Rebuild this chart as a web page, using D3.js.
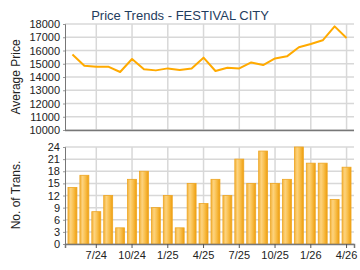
<!DOCTYPE html>
<html>
<head>
<meta charset="utf-8">
<script src="https://cdn.jsdelivr.net/npm/d3@7"></script>
<style>
  body { margin: 0; background: #fff; }
  svg text { font-family: Arial, "Liberation Sans", sans-serif; }
</style>
</head>
<body>
<div id="app"></div>
<script>
// months May 2024 .. Apr 2026
const months = ["5/24","6/24","7/24","8/24","9/24","10/24","11/24","12/24","1/25","2/25","3/25","4/25",
  "5/25","6/25","7/25","8/25","9/25","10/25","11/25","12/25","1/26","2/26","3/26","4/26"]
const tickLabels = ["7/24","10/24","1/25","4/25","7/25","10/25","1/26","4/26"]
const avgPrice = [15700,14850,14780,14780,14380,15360,14580,14500,14650,14530,14650,15460,
  14450,14700,14650,15100,14900,15400,15560,16240,16490,16770,17820,16940]
const transactions = [14,17,8,12,4,16,18,9,12,4,15,10,16,12,21,15,23,15,16,24,20,20,11,19]
const priceTicks = [10000,11000,12000,13000,14000,15000,16000,17000,18000]
const transTicks = [0,3,6,9,12,15,18,21,24]

const W = 360, H = 270
const left = 65, right = 354

const svg = d3.select("#app").append("svg")
  .attr("width", W).attr("height", H)

const defs = svg.append("defs")
const grad = defs.append("linearGradient").attr("id", "barGrad")
  .attr("x1", 0).attr("x2", 1).attr("y1", 0).attr("y2", 0)
grad.append("stop").attr("offset", "0%").attr("stop-color", "#f3b23a")
grad.append("stop").attr("offset", "30%").attr("stop-color", "#fdd37e")
grad.append("stop").attr("offset", "60%").attr("stop-color", "#f9c04f")
grad.append("stop").attr("offset", "100%").attr("stop-color", "#ee9e0e")

const x = d3.scaleBand().domain(months).range([left, right]).padding(0.25)
const xc = d => x(d) + x.bandwidth() / 2

// title
svg.append("text")
  .attr("x", 180).attr("y", 20)
  .attr("text-anchor", "middle")
  .attr("font-size", 13)
  .attr("fill", "#1f3d5e")
  .text("Price Trends - FESTIVAL CITY")

// ---------- price chart ----------
const y1 = d3.scaleLinear().domain([10000, 18000]).range([130, 24])

const g1 = svg.append("g")
g1.selectAll(".hgrid").data(priceTicks).enter().append("line")
  .attr("x1", left).attr("x2", right)
  .attr("y1", d => y1(d)).attr("y2", d => y1(d))
  .attr("stroke", "#d8d8d8").attr("stroke-width", 1.5)
g1.selectAll(".vgrid").data(tickLabels).enter().append("line")
  .attr("x1", d => xc(d)).attr("x2", d => xc(d))
  .attr("y1", 24).attr("y2", 130)
  .attr("stroke", "#d8d8d8").attr("stroke-width", 1.5)

const yAxis1 = g1.append("g").attr("transform", `translate(${left},0)`)
  .call(d3.axisLeft(y1).tickValues(priceTicks).tickSize(2).tickFormat(d3.format("d")))
yAxis1.select(".domain").attr("stroke", "#777")
yAxis1.selectAll("text").attr("font-size", 11).attr("fill", "#222").attr("x", -5)
yAxis1.selectAll(".tick line").attr("stroke", "#999")

g1.append("line").attr("x1", left).attr("x2", right).attr("y1", 130.5).attr("y2", 130.5)
  .attr("stroke", "#777").attr("stroke-width", 1.5)

g1.append("path")
  .datum(avgPrice)
  .attr("fill", "none")
  .attr("stroke", "#ffaa00")
  .attr("stroke-width", 2)
  .attr("stroke-linejoin", "round")
  .attr("d", d3.line().x((d, i) => xc(months[i])).y(d => y1(d)))

svg.append("text")
  .attr("transform", "translate(20,77) rotate(-90)")
  .attr("text-anchor", "middle")
  .attr("font-size", 12).attr("fill", "#222")
  .text("Average Price")

// ---------- transactions chart ----------
const y2 = d3.scaleLinear().domain([0, 24]).range([244, 147])
const g2 = svg.append("g")

g2.selectAll(".hgrid").data(transTicks).enter().append("line")
  .attr("x1", left).attr("x2", right)
  .attr("y1", d => y2(d)).attr("y2", d => y2(d))
  .attr("stroke", "#d8d8d8").attr("stroke-width", 1.5)
g2.selectAll(".vgrid").data(tickLabels).enter().append("line")
  .attr("x1", d => xc(d)).attr("x2", d => xc(d))
  .attr("y1", 147).attr("y2", 244)
  .attr("stroke", "#d8d8d8").attr("stroke-width", 1.5)

g2.selectAll("rect").data(transactions).enter().append("rect")
  .attr("x", (d, i) => x(months[i]))
  .attr("width", x.bandwidth())
  .attr("y", d => y2(d))
  .attr("height", d => 244 - y2(d))
  .attr("fill", "url(#barGrad)")
  .attr("stroke", "#eea623").attr("stroke-width", 0.8)

const yAxis2 = g2.append("g").attr("transform", `translate(${left},0)`)
  .call(d3.axisLeft(y2).tickValues(transTicks).tickSize(2))
yAxis2.select(".domain").attr("stroke", "#777")
yAxis2.selectAll("text").attr("font-size", 11).attr("fill", "#222").attr("x", -5)
yAxis2.selectAll(".tick line").attr("stroke", "#999")

const xAxis2 = g2.append("g").attr("transform", "translate(0,244)")
  .call(d3.axisBottom(x).tickValues(tickLabels).tickSize(4).tickPadding(3))
xAxis2.select(".domain").attr("stroke", "#777").attr("stroke-width", 1.5)
xAxis2.selectAll(".tick line").attr("stroke", "#555")
xAxis2.selectAll("text").attr("font-size", 11).attr("fill", "#222")

svg.append("text")
  .attr("transform", "translate(20,195) rotate(-90)")
  .attr("text-anchor", "middle")
  .attr("font-size", 12).attr("fill", "#222")
  .text("No. of Trans.")
</script>
</body>
</html>
